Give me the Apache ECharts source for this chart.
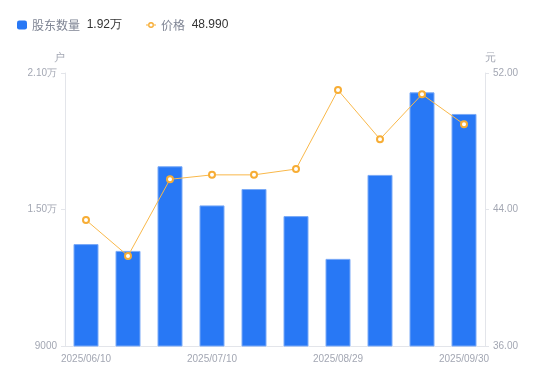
<!DOCTYPE html>
<html>
<head>
<meta charset="utf-8">
<script src="https://cdn.jsdelivr.net/npm/echarts@6/dist/echarts.min.js"></script>
<style>html,body{margin:0;padding:0;background:#fff;}#c{width:550px;height:381px;}</style>
</head>
<body>
<div id="c"></div>
<script>
var categories = ['2025/06/10','2025/06/20','2025/06/30','2025/07/10','2025/07/20','2025/07/31','2025/08/29','2025/09/10','2025/09/20','2025/09/30'];
var holders = [13480, 13180, 16900, 15180, 15900, 14710, 12830, 16520, 20150, 19200];
var prices = [43.38, 41.28, 45.77, 46.03, 46.03, 46.37, 51.00, 48.12, 50.75, 48.99];
var leftTicks = { min: 9000, max: 21000, interval: 6000 };
var rightTicks = { min: 36, max: 52, interval: 8 };

function fmtWan(v) {
  if (Math.abs(v) >= 10000) return (v / 10000).toFixed(2) + '万';
  return String(v);
}
var lastHolder = fmtWan(holders[holders.length - 1]);
var lastPrice = prices[prices.length - 1].toFixed(3);

var lineIcon = 'path://M0,4.5h2.2v1h-2.2z M7.8,4.5h2.2v1h-2.2z M5,2 a3,3 0 1,0 0.001,0 z M5,3.4 a1.6,1.6 0 1,1 -0.001,0 z';

var chart = echarts.init(document.getElementById('c'), null, { renderer: 'canvas' });
var axisGrey = '#a3a7b3';
var lineGrey = '#e3e5ea';
chart.setOption({
  animation: false,
  grid: { left: 65, right: 65, top: 73, bottom: 35, containLabel: false },
  legend: {
    left: 12, top: 14,
    itemWidth: 10, itemHeight: 9, itemGap: 24,
    data: [
      { name: '股东数量', icon: 'roundRect', itemStyle: { borderWidth: 0, color: '#2878f5' } },
      { name: '价格', icon: lineIcon, itemStyle: { borderWidth: 0, color: '#f7ad35' } }
    ],
    formatter: function (name) {
      return '{a|' + name + '}  {b|' + (name === '股东数量' ? lastHolder : lastPrice) + '}';
    },
    textStyle: {
      rich: {
        a: { color: '#7f8594', fontSize: 12, fontFamily: 'Noto Sans CJK SC' },
        b: { color: '#333333', fontSize: 12, fontFamily: 'Liberation Sans' }
      }
    }
  },
  xAxis: {
    type: 'category',
    data: categories,
    axisLine: { lineStyle: { color: lineGrey } },
    axisTick: { show: false },
    axisLabel: { interval: 2, color: axisGrey, fontSize: 10, margin: 8, fontFamily: 'Liberation Sans' }
  },
  yAxis: [{
    type: 'value', name: '户', min: leftTicks.min, max: leftTicks.max, interval: leftTicks.interval,
    nameTextStyle: { color: axisGrey, fontSize: 11, align: 'right' },
    nameGap: 10,
    axisLine: { show: true, lineStyle: { color: lineGrey } },
    axisTick: { show: true, length: 4, lineStyle: { color: lineGrey } },
    splitLine: { show: false },
    axisLabel: { color: axisGrey, fontSize: 10, margin: 8, formatter: fmtWan, fontFamily: 'Liberation Sans' }
  }, {
    type: 'value', name: '元', min: rightTicks.min, max: rightTicks.max, interval: rightTicks.interval,
    nameTextStyle: { color: axisGrey, fontSize: 11, align: 'left' },
    nameGap: 10,
    axisLine: { show: true, lineStyle: { color: lineGrey } },
    axisTick: { show: true, length: 4, lineStyle: { color: lineGrey } },
    splitLine: { show: false },
    axisLabel: { color: axisGrey, fontSize: 10, margin: 8, formatter: function (v) { return v.toFixed(2); }, fontFamily: 'Liberation Sans' }
  }],
  series: [{
    name: '股东数量', type: 'bar', yAxisIndex: 0, data: holders, barWidth: 25,
    itemStyle: { color: '#2878f5', borderColor: '#7aaaf7', borderWidth: 1 }
  }, {
    name: '价格', type: 'line', yAxisIndex: 1, data: prices,
    symbol: 'emptyCircle', symbolSize: 6, showAllSymbol: true,
    lineStyle: { color: '#f9b84a', width: 1 },
    itemStyle: { color: '#f7ad35', borderWidth: 2 }
  }]
});
</script>
</body>
</html>
